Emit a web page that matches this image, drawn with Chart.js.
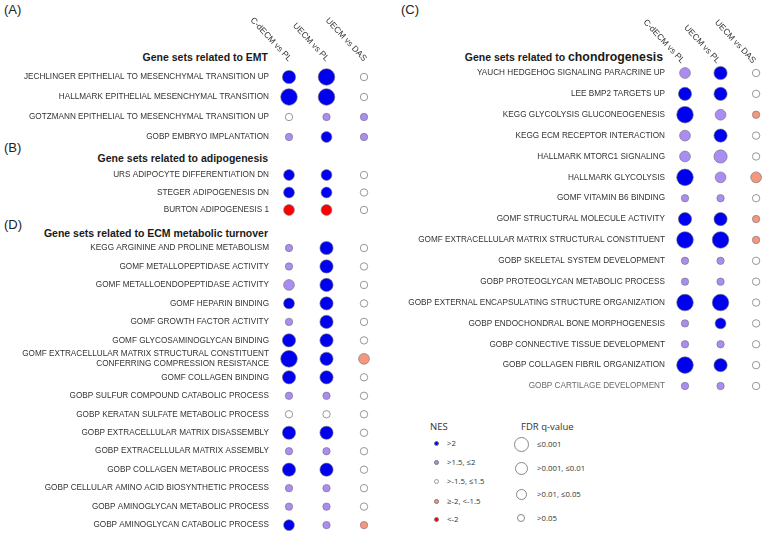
<!DOCTYPE html>
<html>
<head>
<meta charset="utf-8">
<script src="https://cdn.jsdelivr.net/npm/chart.js@4.4.1/dist/chart.umd.min.js"></script>
<style>
  html, body { margin: 0; padding: 0; background: #fff; overflow: hidden; }
  body { position: relative; width: 765px; height: 534px; font-family: "Liberation Sans", Arial, sans-serif; }
  canvas { position: absolute; }
  .tag { position: absolute; font-size: 13px; line-height: 14px; color: #222; }
  .head { position: absolute; font-size: 10.5px; line-height: 12px; font-weight: bold; color: #1a1a1a; white-space: nowrap; }
  .head .big { font-size: 12.3px; }
  .leg { position: absolute; font-family: "Open Sans", sans-serif; color: #333; white-space: nowrap; }
  .leg.title { font-size: 9.5px; line-height: 12px; }
  .leg.txt { font-size: 7.8px; line-height: 10px; }
  .dot { position: absolute; border-radius: 50%; box-sizing: border-box; }
</style>
</head>
<body>
<div class="tag" style="left:4px;top:3px">(A)</div>
<div class="tag" style="left:4px;top:141px">(B)</div>
<div class="tag" style="left:4px;top:218px">(D)</div>
<div class="tag" style="left:401px;top:3px">(C)</div>

<div class="head" style="right:497px;top:51px">Gene sets related to EMT</div>
<div class="head" style="right:497px;top:152px">Gene sets related to adipogenesis</div>
<div class="head" style="right:497px;top:227px">Gene sets related to ECM metabolic turnover</div>
<div class="head" style="right:102px;top:51px">Gene sets related to <span class="big">chondrogenesis</span></div>

<canvas id="chartA" width="380" height="150" style="left:0;top:0"></canvas>
<canvas id="chartB" width="380" height="70" style="left:0;top:152px"></canvas>
<canvas id="chartD" width="380" height="300" style="left:0;top:234px"></canvas>
<canvas id="chartC" width="385" height="400" style="left:380px;top:0"></canvas>

<div id="legend"></div>

<script>
// comparisons (columns)
var columns = ['C-dECM vs PL', 'UECM vs PL', 'UECM vs DAS'];

// NES class: 2 = >2, 1 = >1.5..2, 0 = -1.5..1.5, -1 = -2..-1.5, -2 = <-2
// FDR class: 1 = <=0.001, 2 = <=0.01, 3 = <=0.05, 4 = >0.05

// (A) EMT
var emtSets = [
    'JECHLINGER EPITHELIAL TO MESENCHYMAL TRANSITION UP',
    'HALLMARK EPITHELIAL MESENCHYMAL TRANSITION',
    'GOTZMANN EPITHELIAL TO MESENCHYMAL TRANSITION UP',
    'GOBP EMBRYO IMPLANTATION'
];
var emtNes = [[2, 2, 0], [2, 2, 0], [0, 1, 1], [1, 2, 1]];
var emtFdr = [[2, 1, 4], [1, 1, 4], [4, 4, 4], [4, 3, 4]];

// (B) adipogenesis
var adipoSets = [
    'URS ADIPOCYTE DIFFERENTIATION DN',
    'STEGER ADIPOGENESIS DN',
    'BURTON ADIPOGENESIS 1'
];
var adipoNes = [[2, 2, 0], [2, 2, 0], [-2, -2, 0]];
var adipoFdr = [[3, 3, 4], [3, 3, 4], [3, 3, 4]];

// (D) ECM metabolic turnover
var ecmSets = [
    'KEGG ARGININE AND PROLINE METABOLISM',
    'GOMF METALLOPEPTIDASE ACTIVITY',
    'GOMF METALLOENDOPEPTIDASE ACTIVITY',
    'GOMF HEPARIN BINDING',
    'GOMF GROWTH FACTOR ACTIVITY',
    'GOMF GLYCOSAMINOGLYCAN BINDING',
    ['GOMF EXTRACELLULAR MATRIX STRUCTURAL CONSTITUENT', 'CONFERRING COMPRESSION RESISTANCE'],
    'GOMF COLLAGEN BINDING',
    'GOBP SULFUR COMPOUND CATABOLIC PROCESS',
    'GOBP KERATAN SULFATE METABOLIC PROCESS',
    'GOBP EXTRACELLULAR MATRIX DISASSEMBLY',
    'GOBP EXTRACELLULAR MATRIX ASSEMBLY',
    'GOBP COLLAGEN METABOLIC PROCESS',
    'GOBP CELLULAR AMINO ACID BIOSYNTHETIC PROCESS',
    'GOBP AMINOGLYCAN METABOLIC PROCESS',
    'GOBP AMINOGLYCAN CATABOLIC PROCESS'
];
var ecmNes = [
    [1, 2, 0], [1, 2, 0], [1, 2, 0], [2, 2, 0], [1, 2, 0], [2, 2, 0], [2, 2, -1], [2, 2, 0],
    [1, 1, 0], [0, 0, 0], [2, 2, 0], [1, 1, 0], [2, 2, 0], [1, 1, 0], [1, 1, 0], [2, 1, -1]
];
var ecmFdr = [
    [4, 2, 4], [4, 2, 4], [3, 2, 4], [3, 2, 4], [4, 2, 4], [2, 2, 4], [1, 2, 3], [2, 2, 4],
    [4, 4, 4], [4, 4, 4], [2, 2, 4], [4, 4, 4], [2, 2, 4], [4, 4, 4], [4, 4, 4], [3, 4, 4]
];

// (C) chondrogenesis
var chondroSets = [
    'YAUCH HEDGEHOG SIGNALING PARACRINE UP',
    'LEE BMP2 TARGETS UP',
    'KEGG GLYCOLYSIS GLUCONEOGENESIS',
    'KEGG ECM RECEPTOR INTERACTION',
    'HALLMARK MTORC1 SIGNALING',
    'HALLMARK GLYCOLYSIS',
    'GOMF VITAMIN B6 BINDING',
    'GOMF STRUCTURAL MOLECULE ACTIVITY',
    'GOMF EXTRACELLULAR MATRIX STRUCTURAL CONSTITUENT',
    'GOBP SKELETAL SYSTEM DEVELOPMENT',
    'GOBP PROTEOGLYCAN METABOLIC PROCESS',
    'GOBP EXTERNAL ENCAPSULATING STRUCTURE ORGANIZATION',
    'GOBP ENDOCHONDRAL BONE MORPHOGENESIS',
    'GOBP CONNECTIVE TISSUE DEVELOPMENT',
    'GOBP COLLAGEN FIBRIL ORGANIZATION',
    'GOBP CARTILAGE DEVELOPMENT'
];
var chondroNes = [
    [1, 2, 0], [2, 2, 0], [2, 1, -1], [1, 2, 0], [1, 1, 0], [2, 1, -1], [1, 1, 0], [2, 2, -1],
    [2, 2, -1], [1, 1, 0], [1, 1, 0], [2, 2, 0], [1, 2, 0], [1, 1, 0], [2, 2, 0], [1, 1, 0]
];
var chondroFdr = [
    [3, 2, 4], [2, 2, 4], [1, 3, 4], [3, 2, 4], [3, 2, 4], [1, 3, 3], [4, 4, 4], [2, 2, 4],
    [1, 1, 4], [4, 4, 4], [4, 4, 4], [1, 1, 4], [4, 3, 4], [4, 4, 4], [1, 2, 4], [4, 4, 4]
];

var nesLegend = ['>2', '>1.5, \u22642', '>-1.5, \u22641.5', '\u2265-2, <-1.5', '<-2'];
var fdrLegend = ['\u22640.001', '>0.001, \u22640.01', '>0.01, \u22640.05', '>0.05'];

var nesColor = { '2': '#0000f0', '1': '#a98df2', '0': '#ffffff', '-1': '#f5967d', '-2': '#ff0000' };
var fdrRadius = { 1: 8.3, 2: 6.6, 3: 5.4, 4: 3.7 };
var labelFont = { family: '"Liberation Sans", Arial, sans-serif', size: 8.2 };

// rotated comparison names above the columns
var columnHeads = {
    id: 'columnHeads',
    afterDraw: function (chart, args, opts) {
        if (!opts.show) return;
        var ctx = chart.ctx, xs = chart.scales.x, top = chart.chartArea.top;
        ctx.save();
        ctx.font = '8.5px "Liberation Sans", Arial, sans-serif';
        ctx.fillStyle = '#333';
        ctx.textAlign = 'right';
        ctx.textBaseline = 'middle';
        columns.forEach(function (c, i) {
            ctx.save();
            ctx.translate(xs.getPixelForValue(i) + opts.dx, top - opts.dy);
            ctx.rotate(47 * Math.PI / 180);
            ctx.fillText(c, 0, 0);
            ctx.restore();
        });
        ctx.restore();
    }
};

function makeChart(id, sets, nes, fdr, axisWidth, pad, heads, tickColor) {
    var pts = [], fill = [], edge = [], bw = [], rad = [];
    nes.forEach(function (row, i) {
        row.forEach(function (v, j) {
            pts.push({ x: j, y: i });
            rad.push(fdrRadius[fdr[i][j]]);
            fill.push(nesColor[v]);
            edge.push(v === 0 ? '#8c8c8c' : '#707070');
            bw.push(v === 0 ? 0.9 : 0.6);
        });
    });
    return new Chart(document.getElementById(id), {
        type: 'bubble',
        data: {
            datasets: [{
                data: pts,
                radius: rad,
                backgroundColor: fill,
                borderColor: edge,
                borderWidth: bw,
                hoverRadius: 0,
                clip: false
            }]
        },
        plugins: [columnHeads],
        options: {
            responsive: false,
            animation: false,
            events: [],
            parsing: false,
            layout: { padding: pad },
            plugins: {
                legend: { display: false },
                tooltip: { enabled: false },
                columnHeads: heads
            },
            scales: {
                x: { type: 'category', labels: columns, offset: false, display: false },
                y: {
                    type: 'category',
                    labels: sets,
                    offset: false,
                    grid: { display: false, drawTicks: false },
                    border: { display: false },
                    ticks: { autoSkip: false, padding: 20, font: labelFont, color: tickColor || '#333' },
                    afterFit: function (s) {
                        s.width = axisWidth;
                        s.paddingTop = 0;
                        s.paddingBottom = 0;
                    }
                }
            }
        }
    });
}

makeChart('chartA', emtSets, emtNes, emtFdr, 289, { top: 77, bottom: 13, left: 0, right: 16 }, { show: true, dx: 1, dy: 17 });
makeChart('chartB', adipoSets, adipoNes, adipoFdr, 289, { top: 23, bottom: 12, left: 0, right: 16 }, { show: false });
makeChart('chartD', ecmSets, ecmNes, ecmFdr, 289, { top: 14, bottom: 5, left: 0, right: 16 }, { show: false });
makeChart('chartC', chondroSets, chondroNes, chondroFdr, 305, { top: 73, bottom: 14, left: 0, right: 7 }, { show: true, dx: -2, dy: 11 },
    function (c) { return c.index === chondroSets.length - 1 ? '#6a6a6a' : '#333'; });

// legend
var leg = document.getElementById('legend');
function addEl(cls, html, css) {
    var d = document.createElement('div');
    d.className = cls;
    d.innerHTML = html;
    d.style.cssText = css;
    leg.appendChild(d);
}
addEl('leg title', 'NES', 'left:430px;top:421px');
var nesKeys = ['2', '1', '0', '-1', '-2'];
var nesY = [443, 462, 481, 501, 519];
nesLegend.forEach(function (t, i) {
    var c = nesColor[nesKeys[i]];
    addEl('dot', '', 'left:433.5px;top:' + (nesY[i] - 2.5) + 'px;width:5px;height:5px;background:' + c +
        ';border:' + (nesKeys[i] === '0' ? '0.8px solid #999' : '0.5px solid #777'));
    addEl('leg txt', t, 'left:447px;top:' + (nesY[i] - 5) + 'px');
});
addEl('leg title', 'FDR q-value', 'left:521px;top:421px');
var fdrY = [444, 468, 494, 518];
var fdrR = [7.5, 6.5, 5.5, 4];
fdrLegend.forEach(function (t, i) {
    var r = fdrR[i];
    addEl('dot', '', 'left:' + (521 - r) + 'px;top:' + (fdrY[i] - r) + 'px;width:' + (2 * r) + 'px;height:' + (2 * r) +
        'px;border:0.8px solid #888;background:#fff');
    addEl('leg txt', t, 'left:537px;top:' + (fdrY[i] - 5) + 'px');
});
</script>
</body>
</html>
